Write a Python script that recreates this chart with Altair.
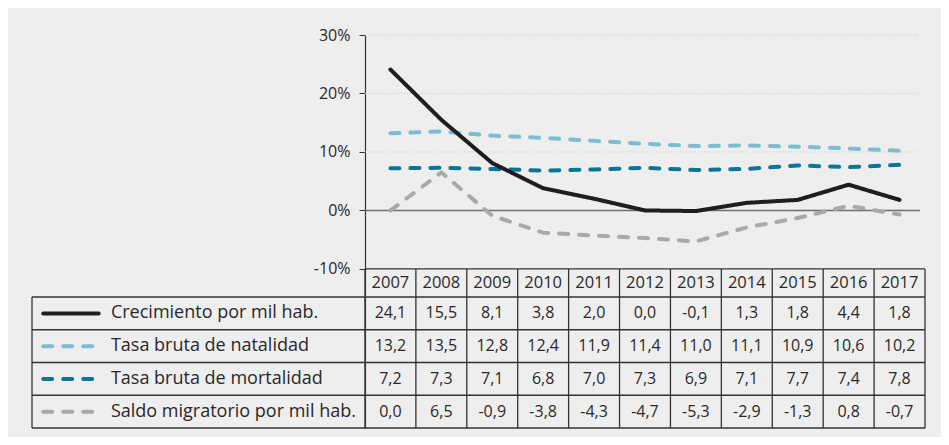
import altair as alt
import pandas as pd

# ---------------- data ----------------
years = [2007, 2008, 2009, 2010, 2011, 2012, 2013, 2014, 2015, 2016, 2017]
series_names = [
    "Crecimiento por mil hab.",
    "Tasa bruta de natalidad",
    "Tasa bruta de mortalidad",
    "Saldo migratorio por mil hab.",
]
crecimiento = [24.1, 15.5, 8.1, 3.8, 2.0, 0.0, -0.1, 1.3, 1.8, 4.4, 1.8]
natalidad = [13.2, 13.5, 12.8, 12.4, 11.9, 11.4, 11.0, 11.1, 10.9, 10.6, 10.2]
mortalidad = [7.2, 7.3, 7.1, 6.8, 7.0, 7.3, 6.9, 7.1, 7.7, 7.4, 7.8]
saldo = [0.0, 6.5, -0.9, -3.8, -4.3, -4.7, -5.3, -2.9, -1.3, 0.8, -0.7]
y_ticks = [-10, 0, 10, 20, 30]
grid_values = [10, 20, 30]

series_values = [crecimiento, natalidad, mortalidad, saldo]
colors = ["#1f1d1e", "#7bbdd1", "#0b7597", "#a9a9ad"]
dashes = [[1, 0], [9, 11], [9, 11], [9, 11]]

FONT = "Open Sans"
TXT = "#2a2829"

# ---------------- layout (in scale units) ----------------
X_LEFT = 1999.96          # left edge of the table
X0, X1 = 2006.5, 2017.5   # plot / year-column extent
Y_MIN, Y_MAX = -37.2, 30
HEADER_BOTTOM = -14.8
row_edges = [HEADER_BOTTOM, -20.4, -26.0, -31.6, Y_MIN]
row_centers = [(row_edges[i] + row_edges[i + 1]) / 2 for i in range(4)]
header_center = (-10 + HEADER_BOTTOM) / 2

XS = alt.Scale(domain=[X_LEFT, X1], zero=False, nice=False)
YS = alt.Scale(domain=[Y_MIN, Y_MAX], zero=False, nice=False)
YAX = alt.Axis(
    values=y_ticks, labelExpr="datum.value + '%'", offset=-333,
    grid=False, tickSize=6, tickColor="#333", domainColor="#333",
    labelFontSize=16, labelColor=TXT, labelFont=FONT, labelPadding=9,
    domainWidth=1.2, tickWidth=1,
)


def X(f):
    return alt.X(f, type="quantitative", scale=XS, axis=None, title=None)


def X2(f):
    return alt.X2(f)


def Y(f):
    return alt.Y(f, type="quantitative", scale=YS, axis=YAX, title=None)


layers = []

# grid lines and zero line
grid_df = pd.DataFrame({"y": grid_values, "x": X0, "x2": 2017.4})
layers.append(
    alt.Chart(grid_df).mark_rule(color="#c9c9c9", strokeDash=[1, 2], strokeWidth=1)
    .encode(x=X("x"), x2=X2("x2"), y=Y("y"))
)
zero_df = pd.DataFrame({"y": [0], "x": [X0], "x2": [2017.4]})
layers.append(
    alt.Chart(zero_df).mark_rule(color="#6e6e6e", strokeWidth=1.5)
    .encode(x=X("x"), x2=X2("x2"), y=Y("y"))
)

# table lines
lines = []
lines.append({"x": X0, "x2": X1, "y": -10, "y2": -10})
for e in row_edges:
    lines.append({"x": X_LEFT, "x2": X1, "y": e, "y2": e})
lines.append({"x": X_LEFT, "x2": X_LEFT, "y": HEADER_BOTTOM, "y2": Y_MIN})
for i in range(len(years) + 1):
    xv = X0 + i
    lines.append({"x": xv, "x2": xv, "y": -10, "y2": Y_MIN})
lines_df = pd.DataFrame(lines)
layers.append(
    alt.Chart(lines_df).mark_rule(color="#333333", strokeWidth=1.3)
    .encode(x=X("x"), x2=X2("x2"), y=Y("y"), y2=alt.Y2("y2"))
)

# header years
hdr_df = pd.DataFrame({"year": years, "label": [str(y) for y in years], "y": header_center})
layers.append(
    alt.Chart(hdr_df).mark_text(font=FONT, fontSize=16.5, color=TXT, baseline="middle")
    .encode(x=X("year"), y=Y("y"), text="label:N")
)

# table values
rows = []
for si, (name, vals) in enumerate(zip(series_names, series_values)):
    for yr, v in zip(years, vals):
        rows.append({"year": yr, "y": row_centers[si],
                     "label": f"{v:.1f}".replace(".", ",")})
vals_df = pd.DataFrame(rows)
layers.append(
    alt.Chart(vals_df).mark_text(font=FONT, fontSize=16, color=TXT, baseline="middle")
    .encode(x=X("year"), y=Y("y"), text="label:N")
)

# legend labels
leg_df = pd.DataFrame({"name": series_names, "y": row_centers, "x": 2001.51})
layers.append(
    alt.Chart(leg_df).mark_text(font=FONT, fontSize=18, color=TXT, align="left",
                                baseline="middle")
    .encode(x=X("x"), y=Y("y"), text="name:N")
)

# series lines and legend swatches (draw order: natalidad, mortalidad, saldo, crecimiento)
order = [1, 2, 3, 0]
for si in order:
    sw = pd.DataFrame({"x": [2000.18], "x2": [2001.27], "y": [row_centers[si]]})
    layers.append(
        alt.Chart(sw).mark_rule(color=colors[si], strokeWidth=4, strokeCap="round",
                                strokeDash=dashes[si])
        .encode(x=X("x"), x2=X2("x2"), y=Y("y"))
    )
for si in order:
    df = pd.DataFrame({"year": years, "value": series_values[si]})
    layers.append(
        alt.Chart(df).mark_line(color=colors[si], strokeWidth=4, strokeCap="round",
                                strokeJoin="round", strokeDash=dashes[si])
        .encode(x=X("year"), y=Y("value"))
    )

chart = (
    alt.layer(*layers)
    .properties(
        width=893, height=393,
        padding={"left": 24, "top": 27, "right": 16, "bottom": 9},
        autosize=alt.AutoSizeParams(type="none"),
        background="#eeeeee",
    )
    .configure_view(stroke=None)
)

chart.save("out.html", embed_options={"renderer": "svg", "actions": False})
